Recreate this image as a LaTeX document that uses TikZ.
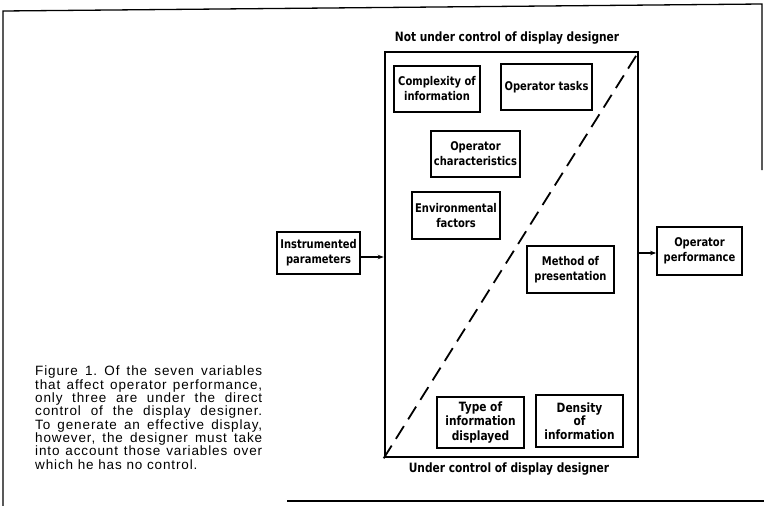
\documentclass[tikz,border=0pt]{standalone}
\usepackage{fontspec}
\setmainfont{Liberation Sans}
\newfontfamily\capfont[LetterSpace=6.5]{Liberation Sans}
\newfontfamily\boxfont[FakeStretch=0.83]{DejaVu Sans}
\usetikzlibrary{arrows.meta}

\tikzset{
  varbox/.style={draw, line width=1.8pt, inner sep=1pt, align=center,
    font=\boxfont\bfseries\fontsize{12}{15}\selectfont},
  heading/.style={font=\boxfont\bfseries\fontsize{12.8}{14}\selectfont, inner sep=0pt},
  feed/.style={line width=1.3pt, -{Stealth[length=6pt,width=4.5pt]}},
}

\begin{document}
\frenchspacing
\begin{tikzpicture}[x=1pt, y=-1pt]
\useasboundingbox (0,0) rectangle (764,506);

% page rules
\draw[line width=1.3pt] (3,506) -- (3,11) -- (762,4) -- (762,170);
\draw[line width=1.8pt] (287,501) -- (764,501);

% the design space and its dividing diagonal
\node[draw, line width=2.6pt, minimum width=253pt, minimum height=405pt, inner sep=0pt]
  (space) at (511.5,254.5) {};
\draw[line width=1.8pt, dash pattern=on 15pt off 8pt] (space.south west) -- (space.north east);

\node[heading] (nottitle) at (507,38) {Not under control of display designer};
\node[heading] (undertitle) at (509,469) {Under control of display designer};

% variables
\node[varbox, minimum width=86pt, minimum height=46pt] (cplx)    at (437,89)    {Complexity of\\information};
\node[varbox, minimum width=91pt, minimum height=46pt] (tasks)   at (546.5,87)  {Operator tasks};
\node[varbox, minimum width=89pt, minimum height=46pt] (chars)   at (475.5,154) {Operator\\characteristics};
\node[varbox, minimum width=88pt, minimum height=47pt] (env)     at (456,215.5) {Environmental\\factors};
\node[varbox, minimum width=87pt, minimum height=47pt] (method)  at (570.5,269.5) {Method of\\presentation};
\node[varbox, minimum width=87pt, minimum height=51pt, font=\boxfont\bfseries\fontsize{12.8}{14.2}\selectfont]
  (type)    at (480.5,422.5) {Type of\\information\\displayed};
\node[varbox, minimum width=87pt, minimum height=52pt, font=\boxfont\bfseries\fontsize{12.8}{13.5}\selectfont]
  (density) at (579.5,421)  {Density\\of\\information};

% input and output
\node[varbox, minimum width=83pt, minimum height=42pt] (instr) at (318.5,253) {Instrumented\\parameters};
\node[varbox, minimum width=85pt, minimum height=48pt] (perf)  at (699.5,251) {Operator\\performance};

\draw[feed] ([yshift=-4pt]instr.east) -- ([yshift=-4pt]instr.east -| space.west);
\draw[feed] ([yshift=-2pt]perf.west -| space.east) -- ([yshift=-2pt]perf.west);

% caption
\node[anchor=north west, inner sep=0pt, text width=227pt, align=justify,
      font=\capfont\fontsize{13.5}{13.3}\selectfont] (caption) at (35,366)
  {Figure 1. Of the seven variables\linebreak
   that affect operator performance,\linebreak
   only three are under the direct\linebreak
   control of the display designer.\linebreak
   To generate an effective display,\linebreak
   however, the designer must take\linebreak
   into account those variables over\linebreak
   which he has no control.};
\end{tikzpicture}
\end{document}
